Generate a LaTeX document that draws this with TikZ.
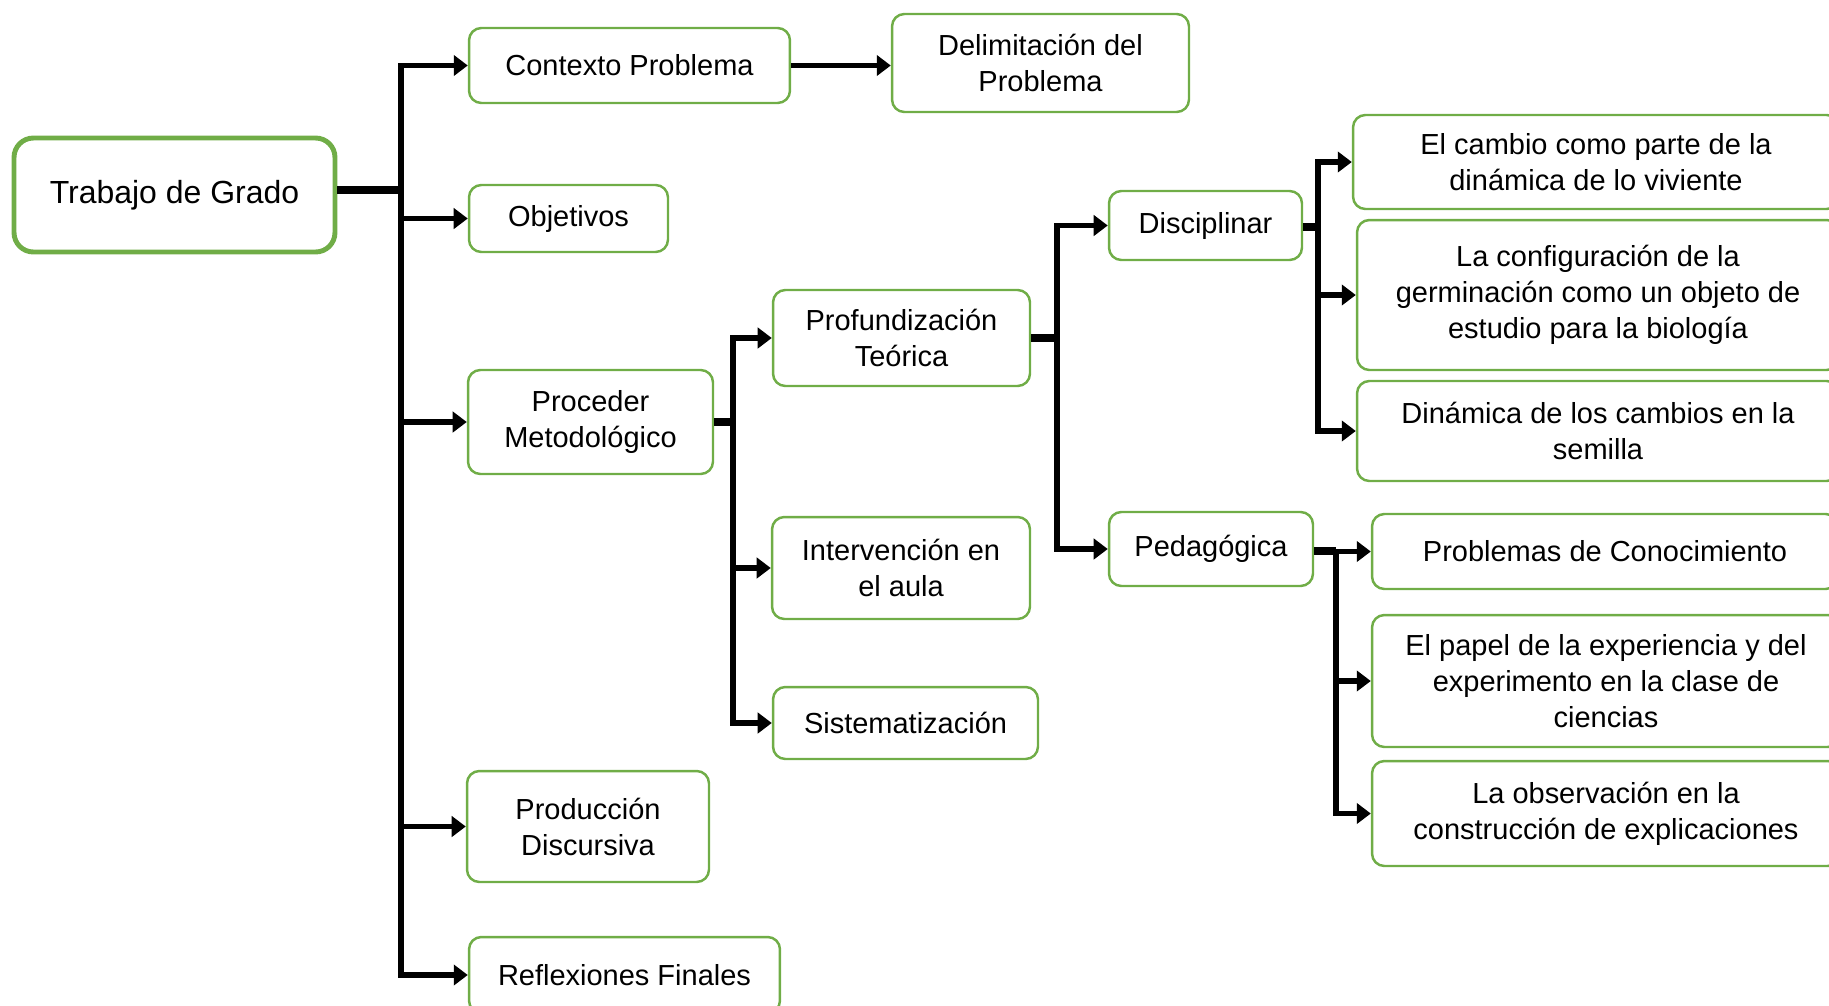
\documentclass[tikz,border=0pt]{standalone}
\usepackage{fontspec}
\setmainfont{Liberation Sans}
\usetikzlibrary{arrows.meta}
\definecolor{boxgreen}{RGB}{112,173,71}
\tikzset{
  box/.style={draw=boxgreen,line width=1.4pt,rounded corners=7pt,align=center,inner sep=0pt,
    font=\fontsize{16.5}{20.5}\selectfont},
  rootbox/.style={box,line width=2.8pt,rounded corners=11pt,font=\fontsize{18.2}{22}\selectfont},
  stem/.style={line width=4pt},
  link/.style={line width=3.2pt,-{Triangle[length=8pt,width=11.5pt]}},
}

\begin{document}
\begin{tikzpicture}[x=0.02cm,y=-0.02cm]
  \useasboundingbox (0,0) rectangle (1829,1005);

  % first level
  \node[rootbox,minimum width=6.42cm,minimum height=2.28cm] (grado) at (174.5,195) {Trabajo de Grado};
  \node[box,minimum width=6.42cm,minimum height=1.5cm] (contexto) at (629.5,65.5) {Contexto Problema};
  \node[box,minimum width=5.94cm,minimum height=1.96cm] (delim) at (1040.5,63) {Delimitación del\\Problema};
  \node[box,minimum width=3.98cm,minimum height=1.34cm] (objetivos) at (568.5,218.5) {Objetivos};
  \node[box,minimum width=4.9cm,minimum height=2.08cm] (proceder) at (590.5,422) {Proceder\\Metodológico};
  \node[box,minimum width=4.84cm,minimum height=2.22cm] (produccion) at (588,826.5) {Producción\\Discursiva};
  \node[box,minimum width=6.22cm,minimum height=1.52cm] (reflexiones) at (624.5,975) {Reflexiones Finales};

  % proceder metodologico
  \node[box,minimum width=5.14cm,minimum height=1.92cm] (profund) at (901.5,338) {Profundización\\Teórica};
  \node[box,minimum width=5.16cm,minimum height=2.04cm] (interv) at (901,568) {Intervención en\\el aula};
  \node[box,minimum width=5.3cm,minimum height=1.44cm] (sistem) at (905.5,723) {Sistematización};

  % profundizacion teorica
  \node[box,minimum width=3.86cm,minimum height=1.38cm] (discip) at (1205.5,225.5) {Disciplinar};
  \node[box,minimum width=4.08cm,minimum height=1.48cm] (pedag) at (1211,549) {Pedagógica};

  % disciplinar / pedagogica
  \node[box,minimum width=9.72cm,minimum height=1.88cm] (cambio) at (1596,162) {El cambio como parte de la\\dinámica de lo viviente};
  \node[box,minimum width=9.64cm,minimum height=3cm] (config) at (1598,295) {La configuración de la\\germinación como un objeto de\\estudio para la biología};
  \node[box,minimum width=9.64cm,minimum height=2cm] (dinamica) at (1598,431) {Dinámica de los cambios en la\\semilla};
  \node[box,minimum width=9.32cm,minimum height=1.5cm] (problemas) at (1605,551.5) {Problemas de Conocimiento};
  \node[box,minimum width=9.36cm,minimum height=2.64cm] (papel) at (1606,681) {El papel de la experiencia y del\\experimento en la clase de\\ciencias};
  \node[box,minimum width=9.36cm,minimum height=2.1cm] (observ) at (1606,813.5) {La observación en la\\construcción de explicaciones};

  % joints
  \coordinate (j1) at (401,190);
  \coordinate (j2) at (733,422);
  \coordinate (j3) at (1057,338);
  \coordinate (j4) at (1318,227);
  \coordinate (j5) at (1336,551);

  \draw[stem] (grado.east |- j1) -- (j1);
  \foreach \n in {contexto,objetivos,proceder,produccion,reflexiones}
    \draw[link] (j1) |- (\n);
  \draw[link] (contexto.east) -- (contexto.east -| delim.west);

  \draw[stem] (proceder.east) -- (j2);
  \foreach \n in {profund,interv,sistem}
    \draw[link] (j2) |- (\n);

  \draw[stem] (profund.east) -- (j3);
  \foreach \n in {discip,pedag}
    \draw[link] (j3) |- (\n);

  \draw[stem] (discip.east |- j4) -- (j4);
  \foreach \n in {cambio,config,dinamica}
    \draw[link] (j4) |- (\n);

  \draw[stem] (pedag.east |- j5) -- (j5);
  \foreach \n in {problemas,papel,observ}
    \draw[link] (j5) |- (\n);
\end{tikzpicture}
\end{document}
